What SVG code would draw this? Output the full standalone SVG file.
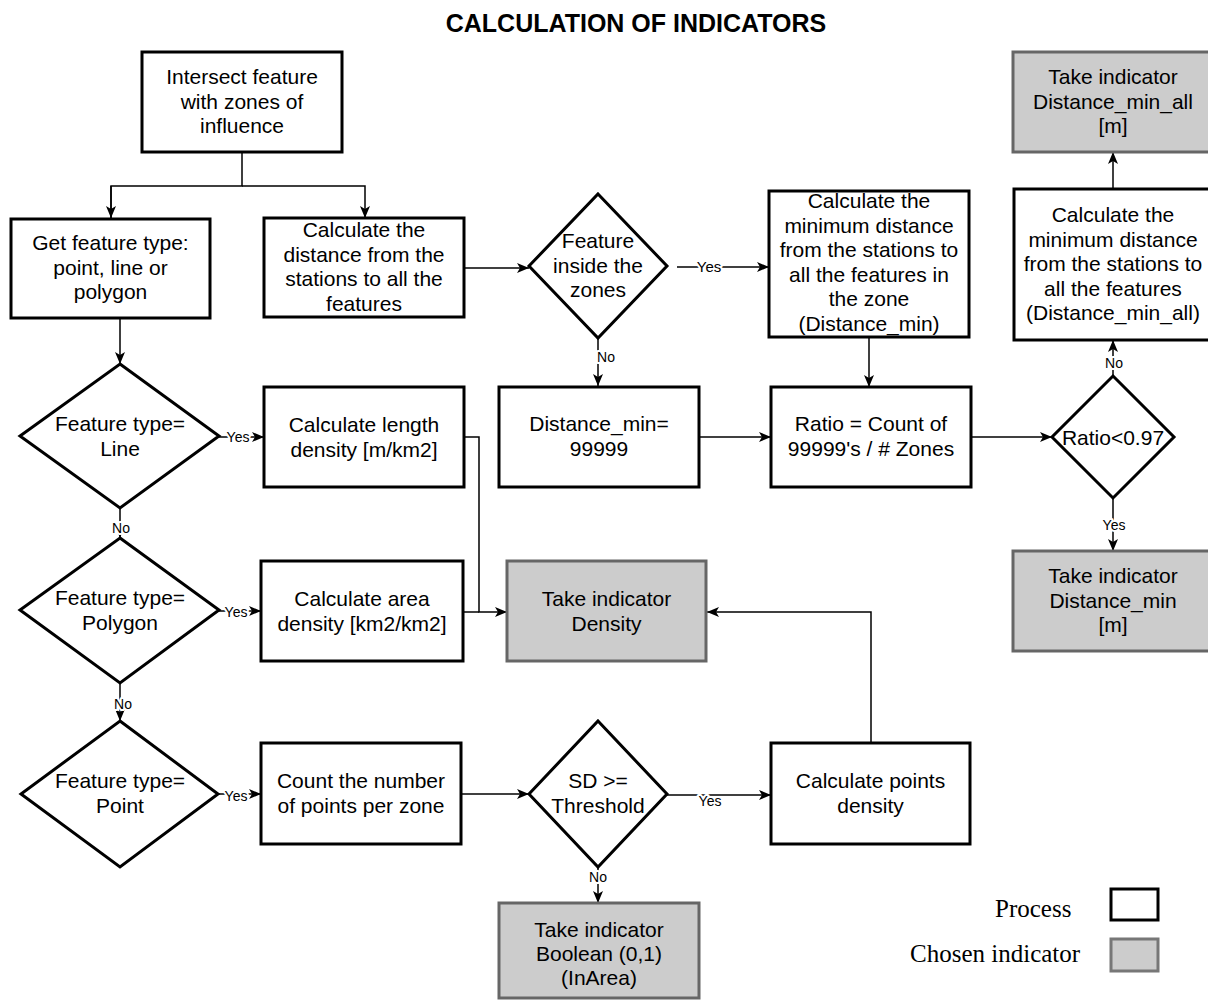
<svg xmlns="http://www.w3.org/2000/svg" width="1208" height="1001" viewBox="0 0 1208 1001">
<style>
.box{fill:#fff;stroke:#000;stroke-width:3}
.ind{fill:#ccc;stroke:#666;stroke-width:3}
.dia{fill:#fff;stroke:#000;stroke-width:3;stroke-linejoin:miter}
.t{font-family:"Liberation Sans",Arial,Helvetica,sans-serif;font-size:21px;text-anchor:middle;fill:#000}
.lbl{font-family:"Liberation Sans",Arial,Helvetica,sans-serif;font-size:14px;text-anchor:middle;fill:#000;stroke:#fff;stroke-width:4;paint-order:stroke;stroke-linejoin:round}
.edge{fill:none;stroke:#000;stroke-width:1.5}
.arr{marker-end:url(#ah)}
.leg{font-family:"Liberation Serif","Times New Roman",serif;font-size:25px;fill:#000}
.title{font-family:"Liberation Sans",Arial,Helvetica,sans-serif;font-size:25px;font-weight:bold;text-anchor:middle;fill:#000}
</style>
<defs>
<marker id="ah" markerUnits="userSpaceOnUse" markerWidth="13" markerHeight="11" refX="12" refY="5" orient="auto" overflow="visible">
<path d="M0,0 L12,5 L0,10 L3,5 Z" fill="#000"/>
</marker>
</defs>
<rect width="1208" height="1001" fill="#fff"/>
<text class="title" x="636" y="32">CALCULATION OF INDICATORS</text>

<g id="connectors">
<path class="edge" d="M242,152 V186 H111 V218"/>
<path class="edge arr" d="M111,186 V218"/>
<path class="edge arr" d="M242,186 H365 V218"/>
<path class="edge arr" d="M120,318 V364"/>
<path class="edge arr" d="M218,437 H264"/>
<path class="edge arr" d="M120,508 V538"/>
<path class="edge arr" d="M218,611 H261"/>
<path class="edge arr" d="M120,683 V721"/>
<path class="edge arr" d="M218,794 H261"/>
<path class="edge arr" d="M461,794 H529"/>
<path class="edge arr" d="M667,795 H771"/>
<path class="edge arr" d="M598,867 V903"/>
<path class="edge arr" d="M871,743 V612 H707"/>
<path class="edge arr" d="M464,437 H479 V612 H507"/>
<path class="edge" d="M463,612 H479"/>
<path class="edge arr" d="M464,268 H529"/>
<path class="edge arr" d="M677,267 H769"/>
<path class="edge arr" d="M598,338 V386"/>
<path class="edge arr" d="M869,337 V387"/>
<path class="edge arr" d="M699,437 H771"/>
<path class="edge arr" d="M971,437 H1052"/>
<path class="edge arr" d="M1113,376 V340"/>
<path class="edge arr" d="M1113,189 V152"/>
<path class="edge arr" d="M1113,498 V551"/>
<text class="lbl" x="709" y="272" style="font-size:15px">Yes</text>
<text class="lbl" x="606" y="362">No</text>
<text class="lbl" x="238" y="442">Yes</text>
<text class="lbl" x="121" y="533">No</text>
<text class="lbl" x="236" y="617">Yes</text>
<text class="lbl" x="123" y="709">No</text>
<text class="lbl" x="236" y="801">Yes</text>
<text class="lbl" x="598" y="882">No</text>
<text class="lbl" x="710" y="806">Yes</text>
<text class="lbl" x="1114" y="368">No</text>
<text class="lbl" x="1114" y="530">Yes</text>
</g>

<g id="n-intersect">
<rect class="box" x="142" y="52" width="200" height="100"/>
<text class="t"><tspan x="242" y="84">Intersect feature</tspan><tspan x="242" y="108.5">with zones of</tspan><tspan x="242" y="133">influence</tspan></text>
</g>
<g id="n-gettype">
<rect class="box" x="11" y="219" width="199" height="99"/>
<text class="t"><tspan x="110.5" y="250">Get feature type:</tspan><tspan x="110.5" y="274.5">point, line or</tspan><tspan x="110.5" y="299">polygon</tspan></text>
</g>
<g id="n-calcdist">
<rect class="box" x="264" y="218" width="200" height="99"/>
<text class="t"><tspan x="364" y="237">Calculate the</tspan><tspan x="364" y="261.5">distance from the</tspan><tspan x="364" y="286">stations to all the</tspan><tspan x="364" y="310.5">features</tspan></text>
</g>
<g id="n-inside">
<polygon class="dia" points="598,194 667,266 598,338 529,266"/>
<text class="t"><tspan x="598" y="248">Feature</tspan><tspan x="598" y="272.5">inside the</tspan><tspan x="598" y="297">zones</tspan></text>
</g>
<g id="n-mindist">
<rect class="box" x="769" y="191" width="200" height="146"/>
<text class="t"><tspan x="869" y="208">Calculate the</tspan><tspan x="869" y="232.5">minimum distance</tspan><tspan x="869" y="257">from the stations to</tspan><tspan x="869" y="281.5">all the features in</tspan><tspan x="869" y="306">the zone</tspan><tspan x="869" y="330.5">(Distance_min)</tspan></text>
</g>
<g id="n-indall">
<rect class="ind" x="1013" y="52" width="200" height="100"/>
<text class="t"><tspan x="1113" y="84">Take indicator</tspan><tspan x="1113" y="108.5">Distance_min_all</tspan><tspan x="1113" y="133">[m]</tspan></text>
</g>
<g id="n-minall">
<rect class="box" x="1014" y="189" width="200" height="151"/>
<text class="t"><tspan x="1113" y="222">Calculate the</tspan><tspan x="1113" y="246.5">minimum distance</tspan><tspan x="1113" y="271">from the stations to</tspan><tspan x="1113" y="295.5">all the features</tspan><tspan x="1113" y="320">(Distance_min_all)</tspan></text>
</g>
<g id="n-line">
<polygon class="dia" points="120,364 219,436 120,508 20,436"/>
<text class="t"><tspan x="120" y="431">Feature type=</tspan><tspan x="120" y="455.5">Line</tspan></text>
</g>
<g id="n-lendens">
<rect class="box" x="264" y="387" width="200" height="100"/>
<text class="t"><tspan x="364" y="432">Calculate length</tspan><tspan x="364" y="456.5">density [m/km2]</tspan></text>
</g>
<g id="n-dmin99">
<rect class="box" x="499" y="387" width="200" height="100"/>
<text class="t"><tspan x="599" y="431">Distance_min=</tspan><tspan x="599" y="455.5">99999</tspan></text>
</g>
<g id="n-ratiobox">
<rect class="box" x="771" y="387" width="200" height="100"/>
<text class="t"><tspan x="871" y="431">Ratio = Count of</tspan><tspan x="871" y="455.5">99999's / # Zones</tspan></text>
</g>
<g id="n-ratiodia">
<polygon class="dia" points="1113,376 1174,437 1113,498 1052,437"/>
<text class="t" x="1113" y="444.5">Ratio&lt;0.97</text>
</g>
<g id="n-inddmin">
<rect class="ind" x="1013" y="551" width="200" height="100"/>
<text class="t"><tspan x="1113" y="583">Take indicator</tspan><tspan x="1113" y="607.5">Distance_min</tspan><tspan x="1113" y="632">[m]</tspan></text>
</g>
<g id="n-polygon">
<polygon class="dia" points="120,538 219,610 120,683 20,610"/>
<text class="t"><tspan x="120" y="605">Feature type=</tspan><tspan x="120" y="629.5">Polygon</tspan></text>
</g>
<g id="n-areadens">
<rect class="box" x="261" y="561" width="202" height="100"/>
<text class="t"><tspan x="362" y="606">Calculate area</tspan><tspan x="362" y="630.5">density [km2/km2]</tspan></text>
</g>
<g id="n-inddens">
<rect class="ind" x="507" y="561" width="199" height="100"/>
<text class="t"><tspan x="606.5" y="606">Take indicator</tspan><tspan x="606.5" y="630.5">Density</tspan></text>
</g>
<g id="n-point">
<polygon class="dia" points="120,721 218,794 120,867 21,794"/>
<text class="t"><tspan x="120" y="788">Feature type=</tspan><tspan x="120" y="812.5">Point</tspan></text>
</g>
<g id="n-count">
<rect class="box" x="261" y="743" width="200" height="101"/>
<text class="t"><tspan x="361" y="788">Count the number</tspan><tspan x="361" y="812.5">of points per zone</tspan></text>
</g>
<g id="n-sd">
<polygon class="dia" points="598,721 667,794 598,867 529,794"/>
<text class="t"><tspan x="598" y="788">SD &gt;=</tspan><tspan x="598" y="812.5">Threshold</tspan></text>
</g>
<g id="n-ptdens">
<rect class="box" x="771" y="743" width="199" height="101"/>
<text class="t"><tspan x="870.5" y="788">Calculate points</tspan><tspan x="870.5" y="812.5">density</tspan></text>
</g>
<g id="n-indbool">
<rect class="ind" x="499" y="903" width="200" height="95"/>
<text class="t"><tspan x="599" y="937">Take indicator</tspan><tspan x="599" y="961">Boolean (0,1)</tspan><tspan x="599" y="985">(InArea)</tspan></text>
</g>

<g id="legend">
<text class="leg" x="995" y="917">Process</text>
<rect class="box" x="1111" y="889" width="47" height="31"/>
<text class="leg" x="910" y="962">Chosen indicator</text>
<rect class="ind" x="1111" y="939" width="47" height="32" style="stroke:#777"/>
</g>
</svg>
